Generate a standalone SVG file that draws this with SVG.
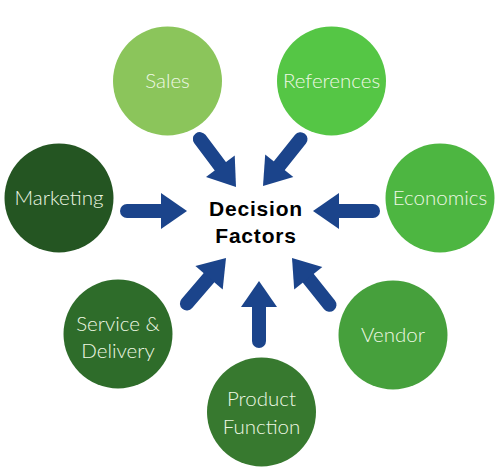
<svg xmlns="http://www.w3.org/2000/svg" xmlns:xlink="http://www.w3.org/1999/xlink" width="500" height="475" viewBox="0 0 500 475">
<style>
.lbl{font-family:Lato,"Open Sans","Liberation Sans",sans-serif;font-size:20.5px;font-weight:300;fill:#eef8e4;text-anchor:middle}
.ctr{font-family:"Liberation Sans",Arial,sans-serif;font-size:21px;font-weight:bold;letter-spacing:0.8px;fill:#000;text-anchor:middle}
.arr{fill:#1b448b}
</style>
<defs>
<g id="arrow">
<line x1="-60" y1="0" x2="-22" y2="0" stroke="#1b448b" stroke-width="14" stroke-linecap="round"/>
<polygon class="arr" points="-26,-18 0,0 -26,18"/>
</g>
</defs>
<rect width="500" height="475" fill="#fff"/>
<g id="connectors">
<use xlink:href="#arrow" transform="translate(236,187) rotate(53)"/>
<use xlink:href="#arrow" transform="translate(263,186) rotate(128.7)"/>
<use xlink:href="#arrow" transform="translate(187,211)"/>
<use xlink:href="#arrow" transform="translate(313,211) rotate(180)"/>
<use xlink:href="#arrow" transform="translate(226,258) rotate(-49.3)"/>
<use xlink:href="#arrow" transform="translate(259,281) rotate(-90)"/>
<use xlink:href="#arrow" transform="translate(292,258) rotate(-128.7)"/>
</g>
<g id="center">
<text class="ctr" x="256" y="216">Decision</text>
<text class="ctr" x="256" y="243">Factors</text>
</g>
<g id="sales"><circle cx="167.5" cy="81" r="54.5" fill="#8bc55b"/><text class="lbl" x="167.5" y="88">Sales</text></g>
<g id="references"><circle cx="331.5" cy="81" r="54.5" fill="#55c645"/><text class="lbl" x="331.5" y="88">References</text></g>
<g id="marketing"><circle cx="59" cy="198" r="54.5" fill="#245522"/><text class="lbl" x="59" y="205">Marketing</text></g>
<g id="economics"><circle cx="440" cy="198" r="54.5" fill="#4db641"/><text class="lbl" x="440" y="205">Economics</text></g>
<g id="service"><circle cx="118" cy="334" r="54.5" fill="#2e6c2a"/><text class="lbl" x="118" y="331">Service &amp;</text><text class="lbl" x="118" y="358">Delivery</text></g>
<g id="vendor"><circle cx="393" cy="335" r="54.5" fill="#46a03c"/><text class="lbl" x="393" y="342">Vendor</text></g>
<g id="product"><circle cx="261.5" cy="412" r="54.5" fill="#37792f"/><text class="lbl" x="261.5" y="406">Product</text><text class="lbl" x="261.5" y="434">Function</text></g>
</svg>
